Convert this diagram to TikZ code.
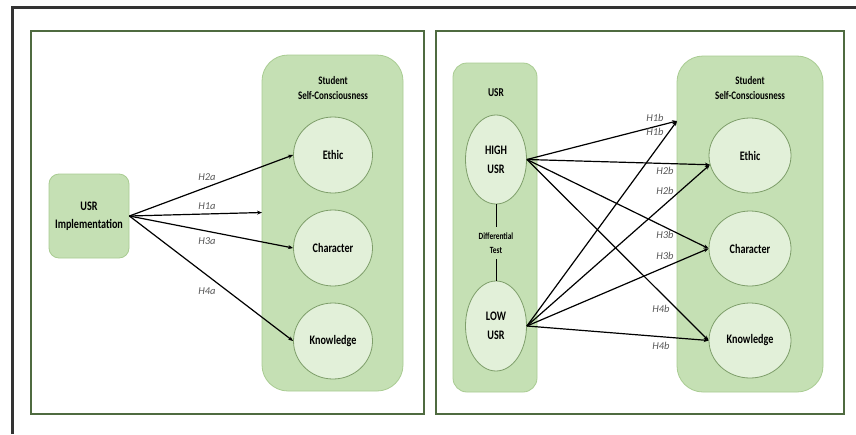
\documentclass[tikz,border=0pt]{standalone}
\usepackage{fontspec}
\setmainfont{Carlito}
\newfontfamily\sqfont{Carlito}[FakeStretch=0.78]
\usetikzlibrary{shapes.geometric,arrows.meta}
\definecolor{boxfill}{HTML}{C5E0B4}
\definecolor{boxline}{HTML}{A9CC92}
\definecolor{ellfill}{HTML}{E2F0D9}
\definecolor{ellline}{HTML}{7E9E6A}
\definecolor{panelline}{HTML}{4F6B40}
\definecolor{labgray}{HTML}{595959}
\begin{document}
\begin{tikzpicture}[x=1pt,y=-1pt,
  panel/.style={draw=panelline,line width=1.8pt},
  greenbox/.style={draw=boxline,fill=boxfill,line width=0.8pt,rounded corners=#1},
  greenbox/.default=12pt,
  circ/.style={ellipse,draw=ellline,fill=ellfill,line width=0.8pt,inner sep=0pt,
    minimum width=#1,font=\sqfont\fontsize{13}{15}\selectfont\bfseries,align=center},
  circ/.default=79pt,
  arr/.style={-{Stealth[length=5pt,width=4pt]},line width=1.2pt,black},
  conn/.style={line width=0.9pt,black},
  hlab/.style={font=\fontsize{10.5}{12}\selectfont\itshape,text=labgray,inner sep=0pt},
  title/.style={font=\sqfont\fontsize{11.5}{15}\selectfont\bfseries,align=center,inner sep=0pt}]
\useasboundingbox (0,0) rectangle (856,434);
\fill[white] (0,0) rectangle (856,434);
% outer frame (top and left)
\draw[line width=3pt,draw=black!80] (12,434) -- (12,7.5) -- (856,7.5);
% panels
\draw[panel] (31,31) rectangle (424,414);
\draw[panel] (436,31) rectangle (844,414);

% ---------- left panel ----------
\node[greenbox=10pt,minimum width=80pt,minimum height=84pt,
  font=\sqfont\fontsize{13}{18}\selectfont\bfseries,align=center] (impl) at (89,216)
  {USR\\Implementation};
\draw[greenbox=26pt] (262,55) rectangle (403,391);
\node[title] (ssc1) at (333,88) {Student\\Self-Consciousness};
\node[circ,minimum height=76pt] (eth1) at (333,155) {Ethic};
\node[circ,minimum height=76pt] (cha1) at (333,248) {Character};
\node[circ,minimum height=76pt] (kno1) at (333,341) {Knowledge};
\coordinate (b1) at (262,212.5);

\draw[arr] (impl.east) -- (eth1.west);
\draw[arr] (impl.east) -- (b1);
\draw[arr] (impl.east) -- (cha1.west);
\draw[arr] (impl.east) -- (kno1.west);
\node[hlab] (h2a) at (207,177) {H2a};
\node[hlab] (h1a) at (207,206) {H1a};
\node[hlab] (h3a) at (207,241) {H3a};
\node[hlab] (h4a) at (207,291) {H4a};

% ---------- right panel ----------
\draw[greenbox=14pt] (453,63) rectangle (537,392);
\node[title,font=\sqfont\fontsize{12}{14}\selectfont\bfseries] (usr) at (496,93) {USR};
\node[circ=61pt,minimum height=89pt,font=\sqfont\fontsize{13}{19}\selectfont\bfseries] (high) at (496,159.5) {HIGH\\USR};
\node[circ=61pt,minimum height=90pt,font=\sqfont\fontsize{13}{19}\selectfont\bfseries] (low) at (496,326) {LOW\\USR};
\node[font=\sqfont\fontsize{9.5}{14.5}\selectfont\bfseries,align=center,inner sep=0pt] (diff) at (496,243) {Differential\\Test};
\draw[conn] (high.south) -- (496,227);
\draw[conn] (496,259) -- (low.north);

\draw[greenbox=26pt] (677,56) rectangle (823,392);
\node[title] (ssc2) at (750,88) {Student\\Self-Consciousness};
\node[circ=82pt,minimum height=75pt] (eth2) at (750,155.5) {Ethic};
\node[circ=82pt,minimum height=75pt] (cha2) at (750,248.5) {Character};
\node[circ=82pt,minimum height=75pt] (kno2) at (750,340.5) {Knowledge};
\coordinate (b2) at (677,121);

\draw[arr] (high.east) -- (b2);
\draw[arr] (high.east) -- (eth2.193);
\draw[arr] (high.east) -- (cha2.west);
\draw[arr] (high.east) -- (kno2.west);
\draw[arr] (low.east) -- (b2);
\draw[arr] (low.east) -- (eth2.193);
\draw[arr] (low.east) -- (cha2.west);
\draw[arr] (low.east) -- (kno2.west);

\node[hlab] (h1b1) at (655,118) {H1b};
\node[hlab] (h1b2) at (655,132) {H1b};
\node[hlab] (h2b1) at (665,170.5) {H2b};
\node[hlab] (h2b2) at (665,191) {H2b};
\node[hlab] (h3b1) at (665,235) {H3b};
\node[hlab] (h3b2) at (665,256) {H3b};
\node[hlab] (h4b1) at (661,309) {H4b};
\node[hlab] (h4b2) at (661,346) {H4b};
\end{tikzpicture}
\end{document}
